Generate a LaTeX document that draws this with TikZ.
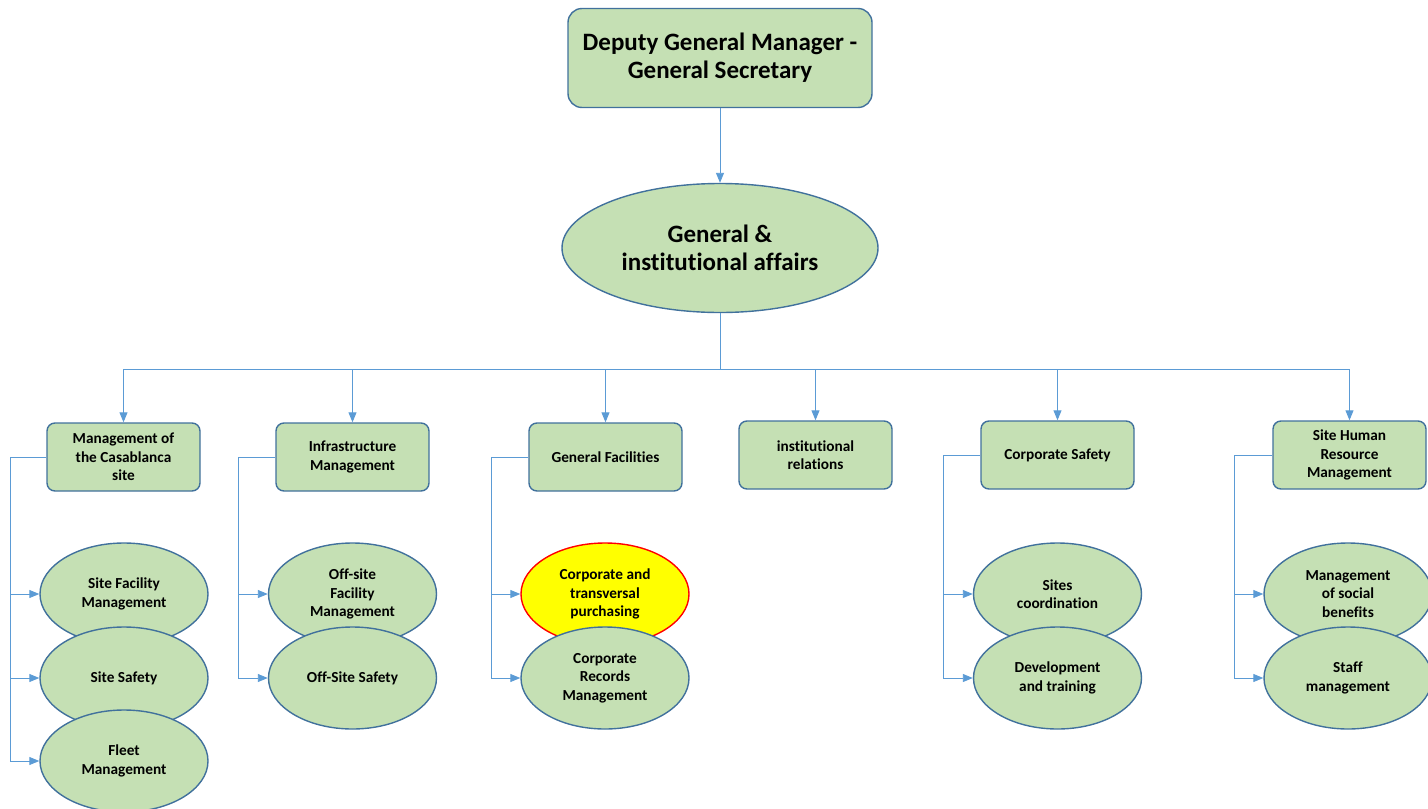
\documentclass[tikz,border=0pt]{standalone}
\usepackage{fontspec}
\setmainfont[Ligatures=NoCommon]{Carlito}
\usetikzlibrary{shapes.geometric,arrows.meta}
\definecolor{nodefill}{HTML}{C5E0B4}
\definecolor{nodeline}{HTML}{41719C}
\definecolor{linkblue}{HTML}{5B9BD5}
\definecolor{hiyellow}{HTML}{FFFF00}
\definecolor{hired}{HTML}{FF0000}
\tikzset{
  unitbox/.style={draw=nodeline, line width=1.4pt, fill=nodefill, rounded corners=8pt,
    minimum width=153pt, minimum height=68pt, inner sep=2pt, align=center,
    font=\fontsize{15.3}{18.5}\selectfont\bfseries},
  subunit/.style={ellipse, draw=nodeline, line width=1.4pt, fill=nodefill,
    minimum width=168pt, minimum height=102pt, inner sep=0pt, align=center,
    font=\fontsize{15.3}{18.5}\selectfont\bfseries},
  highlight/.style={subunit, fill=hiyellow, draw=hired},
  link/.style={draw=linkblue, line width=0.9pt},
  arr/.style={link, -{Triangle[length=10pt,width=8pt]}},
}
\begin{document}
\begin{tikzpicture}[x=1pt,y=-1pt]
\useasboundingbox (0,0) rectangle (1428,809);

% head of the division
\node[draw=nodeline, line width=1.4pt, fill=nodefill, rounded corners=14pt,
  minimum width=304pt, minimum height=99pt, align=center,
  font=\fontsize{25}{28}\selectfont\bfseries] (dgm) at (720,58)
  {Deputy General Manager -\\General Secretary};

\node[ellipse, draw=nodeline, line width=1.4pt, fill=nodefill,
  minimum width=316pt, minimum height=129pt, inner sep=0pt, align=center,
  font=\fontsize{25}{28}\selectfont\bfseries] (gia) at (720,248)
  {General \&\\institutional affairs};

\draw[arr] (dgm.south) -- (gia.north);

% departments
\node[unitbox] (b1) at (123.5,457) {Management of\\the Casablanca\\site};
\node[unitbox] (b2) at (352.5,457) {Infrastructure\\Management};
\node[unitbox] (b3) at (605.5,457) {General Facilities};
\node[unitbox] (b4) at (815.5,455) {institutional\\relations};
\node[unitbox] (b5) at (1057.5,455) {Corporate Safety};
\node[unitbox] (b6) at (1349.5,455) {Site Human\\Resource\\Management};

% distribution bus
\coordinate (bus) at (720,369);
\draw[link] (gia.south) -- (bus);
\draw[link] (bus -| b1.north) -- (bus -| b6.north);
\foreach \b in {b1,b2,b3,b4,b5,b6}
  \draw[arr] (bus -| \b.north) -- (\b.north);

% services
\node[subunit] (e11) at (124,594) {Site Facility\\Management};
\node[subunit] (e12) at (124,678) {Site Safety};
\node[subunit] (e13) at (124,761) {Fleet\\Management};

\node[subunit] (e21) at (352.5,594) {Off-site\\Facility\\Management};
\node[subunit] (e22) at (352.5,678) {Off-Site Safety};

\node[highlight] (e31) at (605,594) {Corporate and\\transversal\\purchasing};
\node[subunit] (e32) at (605,678) {Corporate\\Records\\Management};

\node[subunit] (e51) at (1057.5,594) {Sites\\coordination};
\node[subunit] (e52) at (1057.5,678) {Development\\and training};

\node[subunit] (e61) at (1348,594) {Management\\of social\\benefits};
\node[subunit] (e62) at (1348,678) {Staff\\management};

% side brackets
\coordinate (k1) at (10,457);
\coordinate (k2) at (238,457);
\coordinate (k3) at (491,457);
\coordinate (k5) at (943,455);
\coordinate (k6) at (1234,455);

\draw[link] (b1.west) -- (k1) -- (k1 |- e13.west);
\draw[arr] (k1 |- e11.west) -- (e11.west);
\draw[arr] (k1 |- e12.west) -- (e12.west);
\draw[arr] (k1 |- e13.west) -- (e13.west);

\draw[link] (b2.west) -- (k2) -- (k2 |- e22.west);
\draw[arr] (k2 |- e21.west) -- (e21.west);
\draw[arr] (k2 |- e22.west) -- (e22.west);

\draw[link] (b3.west) -- (k3) -- (k3 |- e32.west);
\draw[arr] (k3 |- e31.west) -- (e31.west);
\draw[arr] (k3 |- e32.west) -- (e32.west);

\draw[link] (b5.west) -- (k5) -- (k5 |- e52.west);
\draw[arr] (k5 |- e51.west) -- (e51.west);
\draw[arr] (k5 |- e52.west) -- (e52.west);

\draw[link] (b6.west) -- (k6) -- (k6 |- e62.west);
\draw[arr] (k6 |- e61.west) -- (e61.west);
\draw[arr] (k6 |- e62.west) -- (e62.west);
\end{tikzpicture}
\end{document}
